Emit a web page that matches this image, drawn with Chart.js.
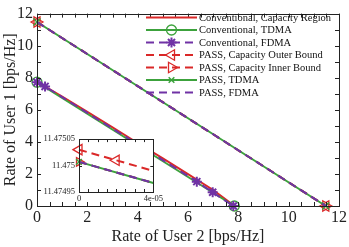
<!DOCTYPE html>
<html>
<head>
<meta charset="utf-8">
<script src="https://cdn.jsdelivr.net/npm/chart.js@4.4.0/dist/chart.umd.min.js"></script>
<style>
  body { margin: 0; background: #fff; }
  #wrap { position: relative; width: 349px; height: 247px; }
  #main { position: absolute; left: 0; top: 0; }
  #inset { position: absolute; left: 36px; top: 130px; }
</style>
</head>
<body>
<div id="wrap">
  <canvas id="main" width="349" height="247"></canvas>
  <canvas id="inset" width="129" height="80"></canvas>
</div>
<script>
// ---- data ----
const seriesNames = [
  'Conventional, Capacity Region',
  'Conventional, TDMA',
  'Conventional, FDMA',
  'PASS, Capacity Outer Bound',
  'PASS, Capacity Inner Bound',
  'PASS, TDMA',
  'PASS, FDMA'
];

// conventional (single fixed antenna)
const convCapX = [0, 1, 2, 3, 4, 5, 6, 7, 7.85];
const convCapY = [7.75, 6.82, 5.87, 4.9, 3.93, 2.97, 1.99, 1.0, 0];
const convTdmaX = [0, 7.84];
const convTdmaY = [7.72, 0];
const convFdmaX = [0, 0.32, 1, 2, 3, 4, 5, 6, 6.35, 6.98, 7.8];
const convFdmaY = [7.72, 7.46, 6.79, 5.81, 4.83, 3.85, 2.86, 1.87, 1.52, 0.86, 0];
const convFdmaMarks = [1, 1, 0, 0, 0, 0, 0, 0, 1, 1, 1];

// PASS
const passOuterX = [0, 11.475];
const passOuterY = [11.475, 0];
const passInnerX = [0, 11.475];
const passInnerY = [11.475, 0];
const passTdmaX = [0, 11.475];
const passTdmaY = [11.475, 0];
const passFdmaX = [0, 11.475];
const passFdmaY = [11.475, 0];

// zoomed inset near (0, 11.475)
const insetOuterX = [0, 2e-5, 4e-5];
const insetOuterY = [11.47503, 11.47501, 11.47499];
const insetOuterMarks = [1, 1, 0];
const insetInnerX = [0, 4e-5];
const insetInnerY = [11.475007, 11.474967];
const insetTdmaX = [0, 4e-5];
const insetTdmaY = [11.475007, 11.474967];
const insetFdmaX = [0, 4e-5];
const insetFdmaY = [11.475007, 11.474967];

const insetXTicks = [0, 0.5e-5, 1e-5, 1.5e-5, 2e-5, 2.5e-5, 3e-5, 3.5e-5, 4e-5];
const insetXLabels = ['0', '', '', '', '', '', '', '', '4e-05'];
const insetYTicks = [11.47495, 11.475, 11.47505];
const insetYLabels = ['11.47495', '11.475', '11.47505'];

const RED = 'rgb(218,40,40)';
const GREEN = 'rgb(60,162,60)';
const PURPLE = 'rgb(112,50,165)';
const FONT = '"Liberation Serif", "DejaVu Serif", serif';

function pts(xs, ys) {
  return xs.map((x, i) => ({ x: x, y: ys[i] }));
}

function series(idx, xs, ys, style) {
  return Object.assign({
    label: seriesNames[idx],
    data: pts(xs, ys),
    borderWidth: 2,
    pointBorderWidth: 1.3,
    pointBackgroundColor: 'rgba(0,0,0,0)',
    pointRadius: 0,
    fill: false,
    tension: 0,
    clip: false,
    order: -idx
  }, style);
}

// radius lists for markers that only sit on some points
function marks(flags, r) {
  return flags.map(f => f ? r : 0);
}

const mainSets = [
  series(0, convCapX, convCapY, { borderColor: RED, pointStyle: false }),
  series(1, convTdmaX, convTdmaY, { borderColor: GREEN, pointBorderColor: GREEN, pointStyle: 'circle', pointRadius: 5, legendRadius: 5 }),
  series(2, convFdmaX, convFdmaY, { borderColor: PURPLE, borderDash: [8, 5], pointBorderColor: PURPLE, pointStyle: 'star', pointRadius: marks(convFdmaMarks, 5), pointBorderWidth: 2, legendRadius: 5 }),
  series(3, passOuterX, passOuterY, { borderColor: RED, borderDash: [8, 5], pointBorderColor: RED, pointStyle: 'triangle', pointRotation: -90, pointRadius: 6, legendRadius: 6 }),
  series(4, passInnerX, passInnerY, { borderColor: RED, borderDash: [8, 5], pointBorderColor: RED, pointStyle: 'triangle', pointRotation: 90, pointRadius: 6, legendRadius: 6 }),
  series(5, passTdmaX, passTdmaY, { borderColor: GREEN, pointBorderColor: GREEN, pointStyle: 'crossRot', pointRadius: 5, pointBorderWidth: 1.5, legendRadius: 4 }),
  series(6, passFdmaX, passFdmaY, { borderColor: PURPLE, borderDash: [8, 5], pointStyle: false })
];

const insetSets = [
  series(3, insetOuterX, insetOuterY, { borderColor: RED, borderDash: [8, 5], pointBorderColor: RED, pointStyle: 'triangle', pointRotation: -90, pointRadius: marks(insetOuterMarks, 6) }),
  series(4, insetInnerX, insetInnerY, { borderColor: RED, borderDash: [8, 5], pointBorderColor: RED, pointStyle: 'triangle', pointRotation: 90, pointRadius: [5, 0] }),
  series(5, insetTdmaX, insetTdmaY, { borderColor: GREEN, pointBorderColor: GREEN, pointStyle: 'crossRot', pointRadius: [4, 0], pointBorderWidth: 1.5 }),
  series(6, insetFdmaX, insetFdmaY, { borderColor: PURPLE, borderDash: [8, 5], pointStyle: false })
];

// box round the plot area with ticks pointing inward
function boxPlugin(tickLen) {
  return {
    id: 'box',
    afterDraw(chart) {
      const ctx = chart.ctx;
      const a = chart.chartArea;
      const xs = chart.scales.x, ys = chart.scales.y;
      ctx.save();
      ctx.strokeStyle = '#222';
      ctx.lineWidth = 1;
      ctx.beginPath();
      xs.ticks.forEach(t => {
        const px = Math.round(xs.getPixelForValue(t.value)) + 0.5;
        ctx.moveTo(px, a.bottom); ctx.lineTo(px, a.bottom - tickLen);
        ctx.moveTo(px, a.top); ctx.lineTo(px, a.top + tickLen);
      });
      ys.ticks.forEach(t => {
        const py = Math.round(ys.getPixelForValue(t.value)) + 0.5;
        ctx.moveTo(a.left, py); ctx.lineTo(a.left + tickLen, py);
        ctx.moveTo(a.right, py); ctx.lineTo(a.right - tickLen, py);
      });
      ctx.stroke();
      ctx.strokeRect(Math.round(a.left) + 0.5, Math.round(a.top) + 0.5,
        Math.round(a.right - a.left), Math.round(a.bottom - a.top));
      ctx.restore();
    }
  };
}

// legend drawn like the original: line sample with marker in the middle
const legendPlugin = {
  id: 'lineLegend',
  afterDraw(chart) {
    const ctx = chart.ctx;
    const x0 = 146, x1 = 197, y0 = 17.5, step = 12.5;
    ctx.save();
    chart.data.datasets.forEach((ds, i) => {
      const y = y0 + i * step;
      ctx.strokeStyle = ds.borderColor;
      ctx.lineWidth = 2;
      ctx.setLineDash(ds.borderDash || []);
      ctx.beginPath();
      ctx.moveTo(x0, y); ctx.lineTo(x1, y);
      ctx.stroke();
      ctx.setLineDash([]);
      if (ds.legendRadius) {
        ctx.strokeStyle = ds.pointBorderColor;
        ctx.fillStyle = 'rgba(0,0,0,0)';
        ctx.lineWidth = ds.pointBorderWidth;
        Chart.helpers.drawPoint(ctx, {
          pointStyle: ds.pointStyle,
          rotation: ds.pointRotation || 0,
          radius: ds.legendRadius,
          borderWidth: ds.pointBorderWidth
        }, (x0 + x1) / 2, y);
      }
      ctx.fillStyle = '#111';
      ctx.font = '10.5px ' + FONT;
      ctx.textBaseline = 'middle';
      ctx.fillText(ds.label, x1 + 2, y + 0.5);
    });
    ctx.restore();
  }
};

const whiteArea = {
  id: 'whiteArea',
  beforeDraw(chart) {
    const a = chart.chartArea;
    chart.ctx.save();
    chart.ctx.fillStyle = '#fff';
    chart.ctx.fillRect(a.left, a.top, a.right - a.left, a.bottom - a.top);
    chart.ctx.restore();
  }
};

new Chart(document.getElementById('main'), {
  type: 'line',
  data: { datasets: mainSets },
  options: {
    responsive: false,
    animation: false,
    layout: { padding: { top: 6, right: 9, left: 0, bottom: 0 } },
    plugins: { legend: { display: false }, tooltip: { enabled: false } },
    scales: {
      x: {
        type: 'linear', min: 0, max: 12,
        grid: { display: false, drawTicks: false }, border: { display: false },
        ticks: {
          stepSize: 0.5, autoSkip: false, maxRotation: 0, padding: 2,
          color: '#222', font: { family: FONT, size: 16 },
          callback: v => (v % 2 === 0 ? v : '')
        },
        title: { display: true, text: 'Rate of User 2 [bps/Hz]', color: '#222',
          font: { family: FONT, size: 16 }, padding: { top: 0, bottom: 1 } },
        afterFit: s => { s.height = 41; }
      },
      y: {
        type: 'linear', min: 0, max: 12,
        grid: { display: false, drawTicks: false }, border: { display: false },
        ticks: {
          stepSize: 1, autoSkip: false, padding: 4,
          color: '#222', font: { family: FONT, size: 16 },
          callback: v => (v % 2 === 0 ? v : '')
        },
        title: { display: true, text: 'Rate of User 1 [bps/Hz]', color: '#222',
          font: { family: FONT, size: 16 }, padding: { top: 1, bottom: 0 } },
        afterFit: s => { s.width = 37; }
      }
    }
  },
  plugins: [boxPlugin(4), legendPlugin]
});

new Chart(document.getElementById('inset'), {
  type: 'line',
  data: { datasets: insetSets },
  options: {
    responsive: false,
    animation: false,
    layout: { padding: { top: 7, right: 7, left: 0, bottom: 0 } },
    plugins: { legend: { display: false }, tooltip: { enabled: false } },
    scales: {
      x: {
        type: 'linear', min: 0, max: 4e-5,
        grid: { display: false, drawTicks: false }, border: { display: false },
        afterBuildTicks: s => { s.ticks = insetXTicks.map(v => ({ value: v })); },
        ticks: {
          autoSkip: false, maxRotation: 0, padding: 2,
          color: '#222', font: { family: FONT, size: 8.5 },
          callback: (v, i) => insetXLabels[i]
        },
        afterFit: s => { s.height = 18; }
      },
      y: {
        type: 'linear', min: 11.47495, max: 11.47505,
        grid: { display: false, drawTicks: false }, border: { display: false },
        afterBuildTicks: s => { s.ticks = insetYTicks.map(v => ({ value: v })); },
        ticks: {
          autoSkip: false, padding: 4,
          color: '#222', font: { family: FONT, size: 8.5 },
          callback: (v, i) => insetYLabels[i]
        },
        afterFit: s => { s.width = 43; }
      }
    }
  },
  plugins: [whiteArea, boxPlugin(3)]
});
</script>
</body>
</html>
